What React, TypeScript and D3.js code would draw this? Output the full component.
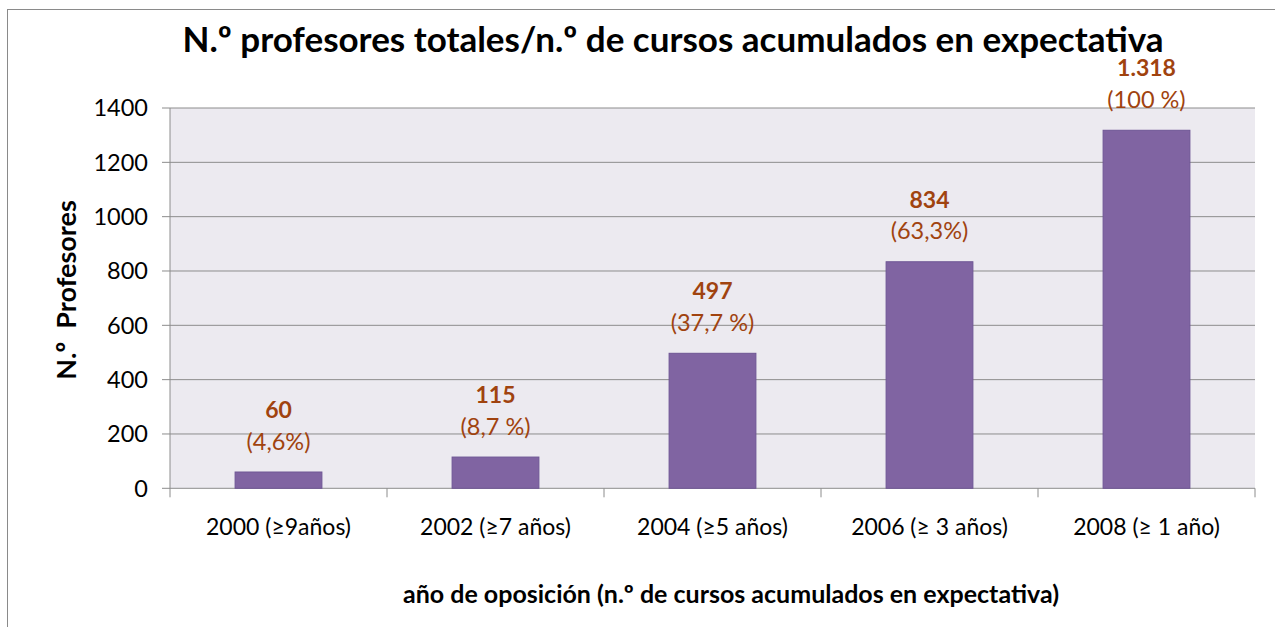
import React from "react";
import * as d3 from "d3";

const categories = ["2000 (≥9años)", "2002 (≥7 años)", "2004 (≥5 años)", "2006 (≥ 3 años)", "2008 (≥ 1 año)"];
const values = [60, 115, 497, 834, 1318];
const valueLabels = ["60", "115", "497", "834", "1.318"];
const percentLabels = ["(4,6%)", "(8,7 %)", "(37,7 %)", "(63,3%)", "(100 %)"];
const yTicks = [0, 200, 400, 600, 800, 1000, 1200, 1400];

const W = 1275;
const H = 627;
const left = 170;
const right = 1255;
const top = 108;
const bottom = 488.3;
const FONT = "Lato, 'Open Sans', sans-serif";

export default function App() {
  const x = d3.scaleBand<string>().domain(categories).range([left, right]).paddingInner(0).paddingOuter(0);
  const y = d3.scaleLinear().domain([0, 1400]).range([bottom, top]);
  const bw = x.bandwidth() * 0.4;
  const boundaries = [...categories.map((c) => x(c) as number), right];

  return (
    <svg width={W} height={H} style={{ position: "absolute", left: 0, top: 0, display: "block" }} fontFamily={FONT}>
      <rect x={0} y={0} width={W} height={H} fill="#fff" />
      <rect x={7.5} y={9.5} width={1400} height={800} fill="none" stroke="#8a8a8a" strokeWidth={1} />
      <text x={673} y={52} textAnchor="middle" fontSize={35} fontWeight={700} fill="#000">
        N.º profesores totales/n.º de cursos acumulados en expectativa
      </text>
      <rect x={left} y={top} width={right - left} height={bottom - top} fill="#ECEAF0" />
      {yTicks.map((t) => (
        <g key={t}>
          <line x1={162} x2={right} y1={y(t)} y2={y(t)} stroke="#8c8c8c" strokeWidth={1} />
          <text x={148} y={y(t)} dy="0.35em" textAnchor="end" fontSize={23.5} fill="#000">
            {t}
          </text>
        </g>
      ))}
      <line x1={left} x2={left} y1={top} y2={bottom} stroke="#8c8c8c" strokeWidth={1} />
      {boundaries.map((b, i) => (
        <line key={i} x1={b} x2={b} y1={bottom} y2={bottom + 9} stroke="#8c8c8c" strokeWidth={1} />
      ))}
      {values.map((v, i) => {
        const cx = (x(categories[i]) as number) + x.bandwidth() / 2;
        return (
          <g key={i}>
            <rect x={cx - bw / 2} y={y(v)} width={bw} height={bottom - y(v)} fill="#8064A2" stroke="#6E5694" strokeWidth={1} />
            <text x={cx} y={y(v) - 54} textAnchor="middle" fontSize={23} fontWeight={700} fill="#A0430F">
              {valueLabels[i]}
            </text>
            <text x={cx} y={y(v) - 22.5} textAnchor="middle" fontSize={23.5} fill="#A0430F">
              {percentLabels[i]}
            </text>
            <text x={cx} y={535} textAnchor="middle" fontSize={23} fill="#000">
              {categories[i]}
            </text>
          </g>
        );
      })}
      <text x={731} y={603} textAnchor="middle" fontSize={25} fontWeight={700} fill="#000">
        año de oposición (n.º de cursos acumulados en expectativa)
      </text>
      <text transform="translate(65,290) rotate(-90)" textAnchor="middle" dominantBaseline="central" fontSize={27} fontWeight={700} fill="#000" style={{ whiteSpace: "pre" }}>
        {"N.º  Profesores"}
      </text>
    </svg>
  );
}
